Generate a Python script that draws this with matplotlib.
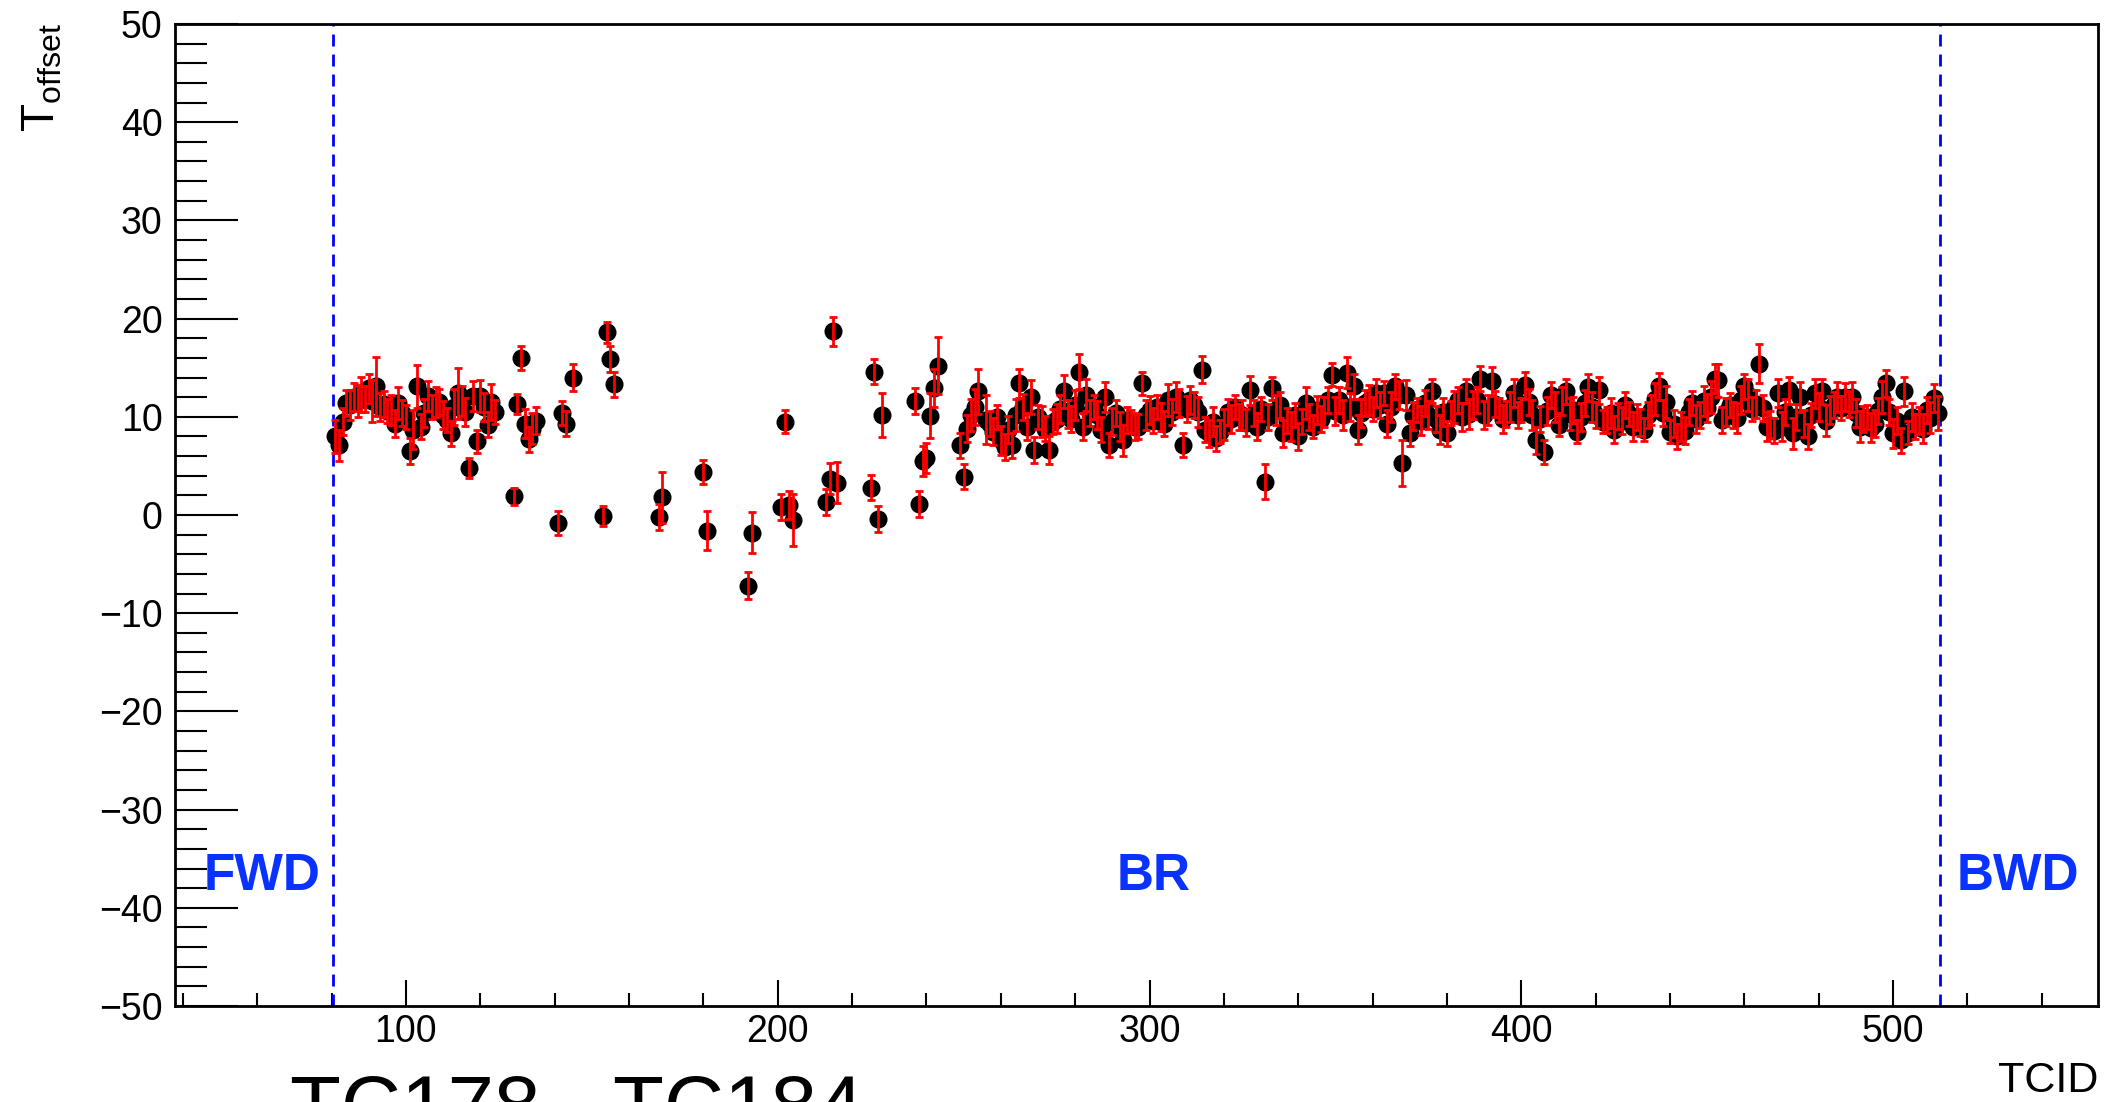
import matplotlib
matplotlib.use("Agg")
import matplotlib.pyplot as plt
from matplotlib.ticker import MultipleLocator

plt.rcParams['font.family'] = 'Liberation Sans'
plt.rcParams['mathtext.fontset'] = 'custom'
plt.rcParams['mathtext.rm'] = 'Liberation Sans'

# forward part of the barrel, TCID 81..124
tcid_a = list(range(81, 125))
toff_a = [8.0, 7.1, 9.5, 11.4, 11.2, 12.0, 11.6, 12.3, 11.8, 12.9,
          11.6, 13.1, 11.0, 11.3, 10.6, 10.7, 9.3, 11.4, 10.4, 10.0,
          6.5, 8.7, 13.1, 9.0, 10.4, 12.1, 11.0, 11.5, 11.5, 10.2,
          9.7, 8.3, 11.0, 12.4, 11.6, 10.5, 4.8, 12.1, 7.5, 12.1,
          11.0, 9.2, 11.5, 10.5]
err_a = [1.7, 1.6, 1.4, 1.3, 1.5, 1.4, 1.6, 1.8, 1.3, 1.5,
         2.1, 3.0, 1.4, 1.3, 1.2, 1.5, 1.4, 1.6, 1.3, 1.2,
         1.3, 2.0, 2.2, 1.3, 1.4, 1.5, 1.2, 1.5, 1.3, 1.4,
         1.2, 1.3, 1.8, 2.6, 1.5, 1.4, 1.0, 1.5, 1.2, 1.6,
         1.4, 1.3, 1.8, 1.2]

# sparse part (TC178 - TC184 problem region)
tcid_b = [129, 130, 131, 132, 133, 134, 135, 141, 142, 143,
          145, 153, 154, 155, 156, 168, 169, 180, 181, 192,
          193, 201, 202, 203, 204, 213, 214, 215, 216, 225,
          226, 227, 228, 237, 238, 239, 240, 241, 242, 243,
          249, 250, 251, 252, 253, 254, 256]
toff_b = [1.9, 11.3, 16.0, 9.3, 7.7, 8.8, 9.6, -0.8, 10.4, 9.3,
          14.0, -0.1, 18.6, 15.9, 13.3, -0.2, 1.8, 4.4, -1.6, -7.2,
          -1.8, 0.8, 9.5, 1.0, -0.5, 1.3, 3.7, 18.7, 3.3, 2.8,
          14.6, -0.4, 10.2, 11.6, 1.1, 5.5, 5.8, 10.1, 12.9, 15.2,
          7.1, 3.9, 8.8, 10.2, 11.0, 12.6, 9.7]
err_b = [0.9, 1.0, 1.2, 1.5, 1.3, 1.6, 1.4, 1.2, 1.2, 1.3,
         1.4, 1.05, 1.1, 1.3, 1.3, 1.3, 2.6, 1.2, 2.0, 1.35,
         2.1, 1.3, 1.2, 1.4, 2.65, 1.3, 1.6, 1.5, 2.1, 1.3,
         1.3, 1.35, 2.25, 1.3, 1.3, 1.5, 1.5, 2.3, 1.95, 2.9,
         1.3, 1.3, 1.4, 1.6, 1.8, 2.3, 2.5]

# rest of the barrel, TCID 257..512
tcid_c = list(range(257, 513))
toff_c = [9.3, 8.5, 10.0, 7.6, 6.9, 8.7, 7.1, 10.2, 13.4, 11.0,
          9.0, 12.0, 6.6, 10.0, 9.5, 8.8, 6.6, 9.5, 9.8, 10.8,
          12.6, 10.3, 9.8, 11.2, 14.6, 9.0, 12.2, 10.4, 11.0, 10.2,
          8.7, 12.0, 7.1, 9.5, 10.4, 9.0, 7.6, 9.7, 9.5, 9.0,
          9.0, 13.4, 10.2, 10.7, 9.6, 11.0, 10.0, 9.3, 11.7, 10.5,
          12.0, 11.4, 7.1, 10.8, 11.7, 11.2, 10.5, 14.8, 8.7, 8.3,
          9.5, 7.8, 8.5, 9.2, 10.5, 9.8, 11.0, 10.0, 10.2, 9.4,
          12.7, 10.4, 9.0, 10.8, 3.4, 10.0, 12.9, 10.7, 11.2, 8.3,
          9.6, 9.0, 10.2, 8.0, 9.5, 11.4, 10.0, 9.0, 10.7, 9.8,
          10.5, 11.7, 14.3, 10.6, 11.7, 10.2, 14.5, 11.0, 13.1, 8.7,
          10.4, 11.4, 11.7, 10.8, 12.4, 11.2, 12.4, 9.3, 11.0, 13.1,
          12.2, 5.3, 12.2, 8.3, 10.1, 10.7, 9.6, 11.4, 10.2, 12.6,
          9.8, 8.7, 10.5, 8.3, 10.4, 11.0, 11.7, 10.0, 12.6, 10.3,
          11.2, 11.7, 13.9, 10.2, 10.7, 13.6, 11.3, 10.7, 9.8, 10.3,
          11.0, 12.4, 10.2, 10.7, 13.2, 11.5, 10.2, 7.6, 9.8, 6.4,
          10.6, 12.2, 11.0, 9.2, 11.6, 12.6, 10.3, 10.7, 8.5, 10.0,
          11.4, 13.0, 11.0, 10.2, 12.7, 9.5, 9.7, 10.4, 8.7, 10.1,
          9.6, 11.2, 10.3, 9.0, 10.0, 9.4, 8.7, 10.2, 10.7, 11.8,
          13.1, 10.4, 11.5, 8.5, 9.3, 8.0, 9.0, 8.6, 10.5, 11.4,
          9.8, 10.2, 11.6, 10.9, 12.0, 13.9, 13.7, 9.7, 10.5, 11.2,
          10.2, 9.9, 11.7, 13.1, 12.2, 10.8, 11.3, 15.4, 10.9, 9.0,
          9.2, 8.6, 12.4, 9.0, 10.5, 12.7, 8.3, 10.0, 12.0, 9.3,
          8.0, 10.2, 12.4, 11.0, 12.6, 9.6, 10.7, 11.2, 12.0, 10.9,
          12.0, 11.3, 12.0, 10.4, 9.0, 9.8, 10.0, 8.9, 9.3, 10.6,
          12.0, 13.4, 10.5, 8.3, 9.6, 7.6, 12.6, 8.4, 10.0, 9.0,
          9.6, 8.8, 10.7, 9.9, 11.9, 10.4]
err_c = [1.3, 1.4, 1.2, 1.5, 1.3, 1.4, 1.3, 1.6, 1.5, 1.3,
         1.4, 1.7, 1.3, 1.2, 1.6, 1.3, 1.4, 1.3, 1.5, 1.4,
         1.7, 1.4, 1.3, 1.5, 1.8, 1.4, 1.6, 1.3, 1.2, 1.4,
         1.3, 1.5, 1.2, 1.4, 1.3, 1.5, 1.6, 1.3, 1.2, 1.4,
         1.3, 1.2, 1.5, 1.4, 1.3, 1.2, 1.4, 1.3, 1.6, 1.3,
         1.5, 1.4, 1.2, 1.3, 1.4, 1.3, 1.5, 1.4, 1.3, 1.4,
         1.5, 1.3, 1.2, 1.6, 1.3, 1.4, 1.2, 1.3, 1.5, 1.4,
         1.5, 1.3, 1.4, 1.2, 1.8, 1.3, 1.2, 1.5, 1.3, 1.4,
         1.3, 1.5, 1.2, 1.4, 1.3, 1.6, 1.3, 1.2, 1.4, 1.3,
         1.5, 1.3, 1.2, 1.4, 1.3, 1.5, 1.6, 1.4, 1.3, 1.5,
         1.4, 1.3, 1.5, 1.2, 1.4, 1.3, 1.2, 1.4, 1.5, 1.3,
         1.4, 2.3, 1.5, 1.3, 1.4, 1.2, 1.5, 1.3, 1.4, 1.2,
         1.3, 1.5, 1.4, 1.3, 1.2, 1.6, 1.3, 1.4, 1.2, 1.5,
         1.4, 1.3, 1.3, 1.4, 1.5, 1.5, 1.3, 1.2, 1.4, 1.3,
         1.5, 1.4, 1.3, 1.2, 1.4, 1.3, 1.5, 1.4, 1.3, 1.2,
         1.4, 1.3, 1.5, 1.2, 1.4, 1.3, 1.6, 1.3, 1.2, 1.4,
         1.3, 1.4, 1.5, 1.3, 1.4, 1.2, 1.3, 1.5, 1.4, 1.3,
         1.4, 1.3, 1.2, 1.5, 1.3, 1.4, 1.2, 1.3, 1.5, 1.6,
         1.4, 1.3, 1.6, 1.2, 1.4, 1.3, 1.5, 1.4, 1.3, 1.2,
         1.4, 1.3, 1.5, 1.4, 1.6, 1.5, 1.7, 1.3, 1.4, 1.2,
         1.3, 1.5, 1.4, 1.3, 1.6, 1.2, 1.4, 2.0, 1.3, 1.5,
         1.4, 1.3, 1.4, 1.5, 1.3, 1.4, 1.6, 1.3, 1.5, 1.4,
         1.3, 1.2, 1.5, 1.4, 1.3, 1.6, 1.4, 1.3, 1.5, 1.2,
         1.4, 1.3, 1.5, 1.4, 1.6, 1.3, 1.2, 1.5, 1.4, 1.3,
         1.6, 1.4, 1.3, 1.5, 1.4, 1.3, 1.5, 1.2, 1.4, 1.3,
         1.4, 1.5, 1.3, 1.6, 1.4, 1.7]

tcid = tcid_a + tcid_b + tcid_c
toff = toff_a + toff_b + toff_c
terr = err_a + err_b + err_c

# detector region borders and labels
borders = [80.5, 512.5]
regions = ['FWD', 'BR', 'BWD']
region_x = [61.4, 301.0, 533.6]

fig = plt.figure(figsize=(21.05, 11.02), dpi=100)
ax = fig.add_axes([175 / 2105, 1 - 1006 / 1102, 1923 / 2105, 982 / 1102])

ax.plot(tcid, toff, 'o', color='black', ms=13, mew=0, zorder=3)
ax.errorbar(tcid, toff, yerr=terr, fmt='none', ecolor='red',
            elinewidth=2.0, capsize=3.2, capthick=2.0, zorder=4)

for b in borders:
    ax.axvline(b, color='blue', lw=2, ls=(0, (4.3, 2.9)), zorder=2)
for name, x in zip(regions, region_x):
    ax.text(x, -38.2, name, color='#0a32ff', fontsize=37,
            fontweight='bold', ha='center', va='baseline')

ax.set_xlim(37.9, 555.1)
ax.set_ylim(-50, 50)
ax.xaxis.set_major_locator(MultipleLocator(100))
ax.xaxis.set_minor_locator(MultipleLocator(20))
ax.yaxis.set_major_locator(MultipleLocator(10))
ax.yaxis.set_minor_locator(MultipleLocator(2))
ax.tick_params(which='both', direction='in', width=1.5, labelsize=27,
               top=False, right=False)
ax.tick_params(axis='y', which='major', length=45, pad=9)
ax.tick_params(axis='y', which='minor', length=23)
ax.tick_params(axis='x', which='major', length=19, pad=6)
ax.tick_params(axis='x', which='minor', length=9.5)
for s in ax.spines.values():
    s.set_linewidth(2)

fig.text(42 / 2105, 1 - 23 / 1102, r'T$_{\mathrm{offset}}$', rotation=90,
         ha='center', va='top', fontsize=33)
fig.text(2098 / 2105, 1 - 1092 / 1102, 'TCID', ha='right', va='baseline',
         fontsize=31)
# the reference cuts this caption off at the bottom edge
fig.text(290 / 2105, 1 - 1134 / 1102, 'TC178 - TC184', ha='left',
         va='baseline', fontsize=60)

fig.savefig('out.png', dpi=100)
